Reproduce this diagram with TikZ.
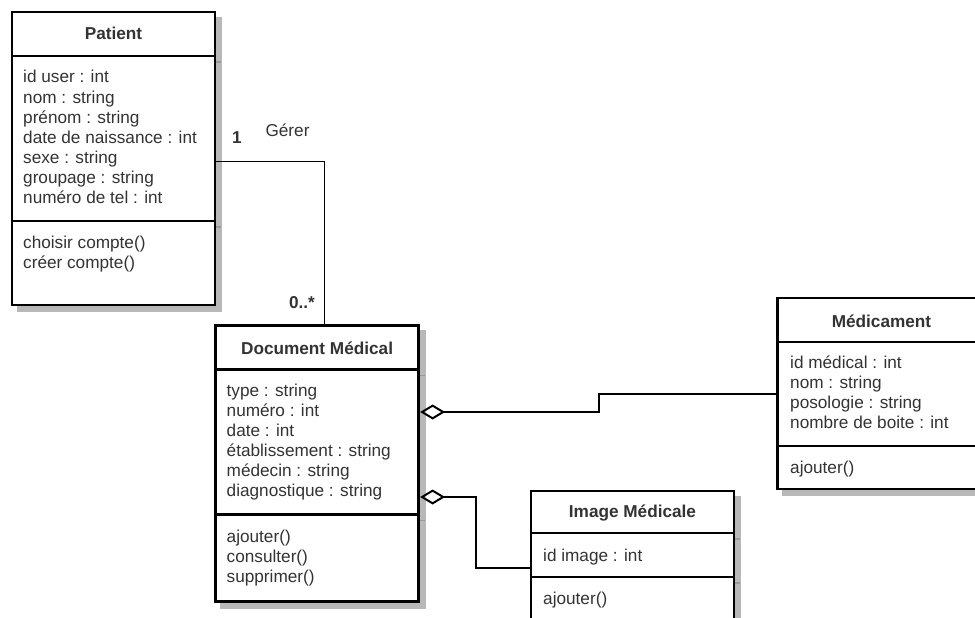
\documentclass[tikz,border=0pt]{standalone}
\usepackage{fontspec}
\setmainfont{Liberation Sans}
\usetikzlibrary{arrows.meta,calc}
\definecolor{txtc}{HTML}{333333}
\definecolor{shad}{HTML}{B8B8B8}
\definecolor{shadtick}{HTML}{9A9A9A}
\tikzset{
  umlbox/.style={draw=black, line width=2.8pt, fill=white, rectangle, inner sep=0pt, outer sep=0pt, anchor=north west},
  shadowbox/.style={draw=shad, fill=shad, line width=2.8pt},
  sepline/.style={draw=black, line width=2.6pt},
  septick/.style={draw=shadtick, line width=1.5pt},
  title/.style={font=\fontsize{17.2}{20}\selectfont\bfseries, text=txtc, anchor=base, inner sep=0pt},
  attr/.style={font=\fontsize{17.2}{20}\selectfont, text=txtc, anchor=base west, inner sep=0pt},
  lbl/.style={font=\fontsize{17.2}{20}\selectfont, text=txtc, anchor=base, inner sep=0pt},
  lblb/.style={font=\fontsize{17.2}{20}\selectfont\bfseries, text=txtc, anchor=base, inner sep=0pt},
  assoc/.style={draw=black, line width=1.3pt},
  aggr/.style={draw=black, line width=2pt, arrows={Diamond[open,length=25pt,width=15pt]-}},
}
\begin{document}
\begin{tikzpicture}[x=1pt,y=-1pt]
\useasboundingbox (0,0) rectangle (975,618);
\clip (0,0) rectangle (975,618);

% ---------- Patient ----------
\draw[shadowbox] (18,18) rectangle (221,311);
\draw[septick] (18,62) -- (221,62);
\draw[septick] (18,227) -- (221,227);
\node[umlbox, minimum width=203pt, minimum height=293pt] (patient) at (12,12) {};
\draw[sepline] ([yshift=-44pt]patient.north west) -- ([yshift=-44pt]patient.north east);
\draw[sepline] ([yshift=-209pt]patient.north west) -- ([yshift=-209pt]patient.north east);
\node[title] (patientT) at (113.5,40) {Patient};
\foreach \t [count=\i] in {id user : int, nom : string, prénom : string, date de naissance : int, sexe : string, groupage : string, numéro de tel : int}
  \node[attr] (pa\i) at (23,{83+20*(\i-1)}) {\t};
\foreach \t [count=\i] in {choisir compte(), créer compte()}
  \node[attr] (pm\i) at (23,{248+20*(\i-1)}) {\t};

% ---------- Document Medical ----------
\draw[shadowbox] (221.5,331.7) rectangle (424.7,607.7);
\draw[septick] (221.5,375.3) -- (424.7,375.3);
\draw[septick] (221.5,520.3) -- (424.7,520.3);
\node[umlbox, minimum width=203.2pt, minimum height=276pt] (doc) at (215.5,325.7) {};
\draw[sepline] ([yshift=-43.6pt]doc.north west) -- ([yshift=-43.6pt]doc.north east);
\draw[sepline] ([yshift=-188.6pt]doc.north west) -- ([yshift=-188.6pt]doc.north east);
\node[title] (docT) at (317.1,354) {Document Médical};
\foreach \t [count=\i] in {type : string, numéro : int, date : int, établissement : string, médecin : string, diagnostique : string}
  \node[attr] (da\i) at (226.5,{396+20*(\i-1)}) {\t};
\foreach \t [count=\i] in {ajouter(), consulter(), supprimer()}
  \node[attr] (dm\i) at (226.5,{542+20*(\i-1)}) {\t};

% ---------- Medicament ----------
\draw[shadowbox] (783.5,304) rectangle (991.5,495);
\draw[septick] (783.5,348) -- (991.5,348);
\draw[septick] (783.5,452) -- (991.5,452);
\node[umlbox, minimum width=208pt, minimum height=191pt] (med) at (777.5,298) {};
\draw[sepline] ([yshift=-44pt]med.north west) -- ([yshift=-44pt]med.north east);
\draw[sepline] ([yshift=-148pt]med.north west) -- ([yshift=-148pt]med.north east);
\node[title] (medT) at (881.5,327) {Médicament};
\foreach \t [count=\i] in {id médical : int, nom : string, posologie : string, nombre de boite : int}
  \node[attr] (ma\i) at (790,{368+20*(\i-1)}) {\t};
\node[attr] (mm1) at (790,473) {ajouter()};

% ---------- Image Medicale ----------
\draw[shadowbox] (537,497) rectangle (740,651);
\draw[septick] (537,539) -- (740,539);
\draw[septick] (537,583) -- (740,583);
\node[umlbox, minimum width=203pt, minimum height=154pt] (img) at (531,491) {};
\draw[sepline] ([yshift=-42pt]img.north west) -- ([yshift=-42pt]img.north east);
\draw[sepline] ([yshift=-86pt]img.north west) -- ([yshift=-86pt]img.north east);
\node[title] (imgT) at (632.5,517) {Image Médicale};
\node[attr] (ia1) at (543,561) {id image : int};
\node[attr] (im1) at (543,604) {ajouter()};

% ---------- Connectors ----------
\coordinate (pe) at ([yshift=-3pt]patient.east);
\coordinate (dn) at ([xshift=7.5pt]doc.north);
\draw[assoc] (pe) -| (dn);
\node[lblb] (mult1) at (237,143) {1};
\node[lbl] (gerer) at (287.5,136) {Gérer};
\node[lblb] (mult2) at (302,308) {0..*};

\coordinate (d1) at ([xshift=1.4pt,yshift=-86.3pt]doc.north east);
\coordinate (d2) at ([xshift=1.4pt,yshift=-171.3pt]doc.north east);
\draw[aggr] (d1) -| ($(d1)!.5!(med.west)$) |- (med.west);
\draw[aggr] (d2) -| ($(d2)!.5!(img.west)$) |- (img.west);
\end{tikzpicture}
\end{document}
